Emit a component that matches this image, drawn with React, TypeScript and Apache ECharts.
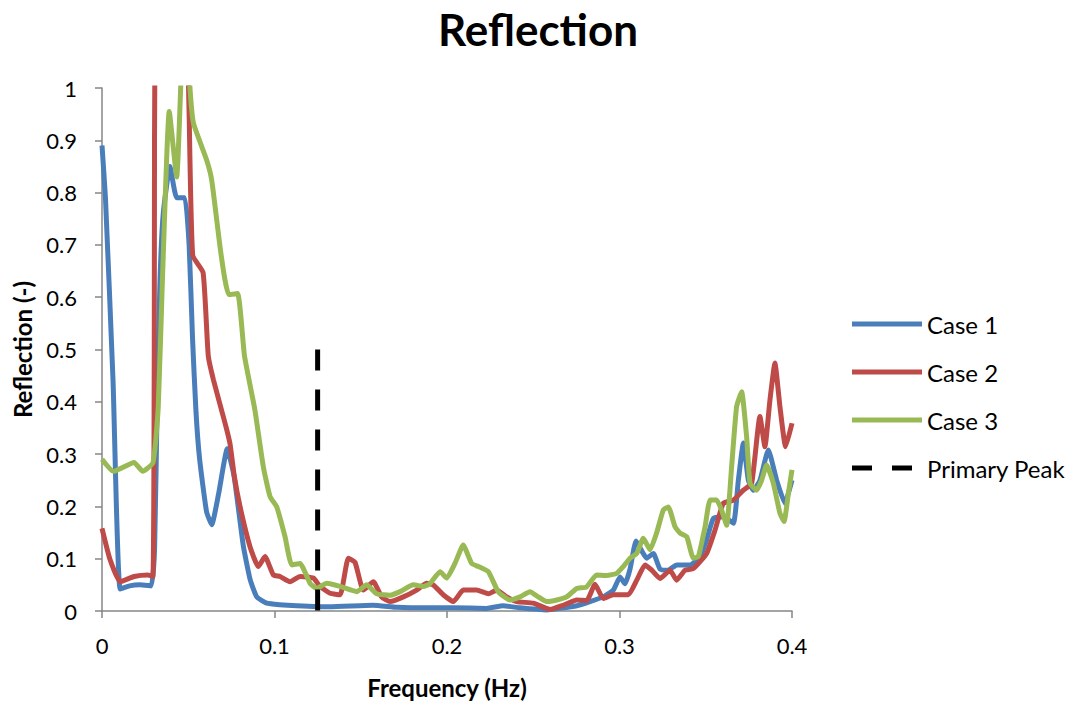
import React, { useEffect, useRef } from "react";
import * as echarts from "echarts";

// Reflection coefficient vs. frequency for three cases
const case1Freq = [0, 0.002, 0.0064, 0.0105, 0.016, 0.022, 0.0285, 0.0305, 0.032, 0.0336, 0.0355, 0.0394, 0.0433, 0.048, 0.0505, 0.0525, 0.0545, 0.0566, 0.0606, 0.0636, 0.0676, 0.0726, 0.0766, 0.0819, 0.0859, 0.0897, 0.0955, 0.103, 0.113, 0.132, 0.157, 0.171, 0.19, 0.2037, 0.223, 0.2326, 0.2423, 0.2578, 0.2655, 0.2752, 0.2829, 0.2906, 0.2964, 0.3003, 0.3032, 0.3061, 0.3096, 0.3129, 0.3158, 0.3196, 0.3235, 0.3283, 0.3331, 0.3409, 0.3467, 0.3505, 0.3544, 0.3602, 0.366, 0.3689, 0.3718, 0.3747, 0.3776, 0.3814, 0.3863, 0.3911, 0.3959, 0.4];
const case1Values = [0.89, 0.79, 0.44, 0.042, 0.048, 0.05, 0.048, 0.12, 0.4, 0.63, 0.76, 0.85, 0.79, 0.79, 0.7, 0.52, 0.38, 0.29, 0.19, 0.165, 0.224, 0.31, 0.257, 0.125, 0.06, 0.027, 0.015, 0.012, 0.01, 0.008, 0.011, 0.007, 0.006, 0.006, 0.005, 0.01, 0.006, 0.002, 0.005, 0.01, 0.018, 0.027, 0.04, 0.065, 0.052, 0.08, 0.134, 0.115, 0.101, 0.11, 0.08, 0.078, 0.088, 0.088, 0.104, 0.136, 0.177, 0.18, 0.168, 0.25, 0.321, 0.25, 0.231, 0.25, 0.308, 0.25, 0.206, 0.25];

const case2Freq = [0, 0.0046, 0.0106, 0.0186, 0.0266, 0.0295, 0.0303, 0.031, 0.04, 0.048, 0.0505, 0.0526, 0.0586, 0.0616, 0.0646, 0.0716, 0.0742, 0.0766, 0.08, 0.0858, 0.0906, 0.0945, 0.0993, 0.1032, 0.109, 0.1148, 0.1225, 0.1264, 0.1322, 0.138, 0.1428, 0.1467, 0.1515, 0.1573, 0.1621, 0.167, 0.1747, 0.1824, 0.1882, 0.192, 0.1978, 0.2037, 0.2094, 0.2172, 0.224, 0.2288, 0.2346, 0.2404, 0.25, 0.2597, 0.2674, 0.2752, 0.281, 0.2858, 0.2906, 0.2964, 0.3051, 0.31, 0.3148, 0.3187, 0.3235, 0.3293, 0.3331, 0.338, 0.3428, 0.3505, 0.3554, 0.3602, 0.366, 0.3718, 0.3766, 0.3814, 0.3843, 0.3872, 0.3901, 0.393, 0.3963, 0.4];
const case2Values = [0.158, 0.099, 0.056, 0.066, 0.069, 0.066, 0.5, 1.3, 1.6, 1.3, 0.95, 0.68, 0.647, 0.488, 0.442, 0.356, 0.32, 0.26, 0.2, 0.123, 0.085, 0.104, 0.069, 0.066, 0.056, 0.066, 0.063, 0.047, 0.034, 0.031, 0.101, 0.093, 0.04, 0.056, 0.027, 0.018, 0.027, 0.04, 0.053, 0.05, 0.031, 0.018, 0.04, 0.04, 0.033, 0.04, 0.027, 0.018, 0.015, 0.003, 0.011, 0.021, 0.02, 0.051, 0.024, 0.031, 0.031, 0.059, 0.088, 0.078, 0.062, 0.078, 0.059, 0.078, 0.081, 0.11, 0.155, 0.206, 0.212, 0.231, 0.244, 0.372, 0.314, 0.403, 0.474, 0.391, 0.314, 0.359];

const case3Freq = [0, 0.0066, 0.0186, 0.0236, 0.0296, 0.0326, 0.035, 0.039, 0.0433, 0.0462, 0.0485, 0.051, 0.053, 0.0607, 0.0636, 0.0684, 0.0713, 0.0735, 0.0786, 0.0826, 0.0886, 0.0935, 0.0974, 0.1013, 0.1061, 0.11, 0.1148, 0.1206, 0.1245, 0.1303, 0.138, 0.1477, 0.1534, 0.1592, 0.167, 0.1728, 0.1805, 0.1863, 0.19, 0.196, 0.1998, 0.2046, 0.2094, 0.2143, 0.2182, 0.224, 0.2297, 0.2365, 0.2423, 0.2481, 0.2529, 0.2578, 0.2636, 0.2694, 0.2752, 0.2809, 0.2867, 0.2926, 0.2984, 0.3022, 0.3061, 0.31, 0.3138, 0.3177, 0.3215, 0.3254, 0.3283, 0.3322, 0.3351, 0.339, 0.3428, 0.3457, 0.3496, 0.3525, 0.3563, 0.3592, 0.3621, 0.365, 0.3679, 0.3708, 0.3737, 0.3757, 0.3795, 0.3824, 0.3853, 0.3892, 0.393, 0.3954, 0.3979, 0.4];
const case3Values = [0.29, 0.267, 0.284, 0.267, 0.284, 0.39, 0.63, 0.955, 0.83, 1.05, 1.15, 1.0, 0.933, 0.862, 0.824, 0.697, 0.633, 0.605, 0.607, 0.488, 0.385, 0.276, 0.219, 0.199, 0.142, 0.088, 0.091, 0.053, 0.043, 0.053, 0.047, 0.037, 0.05, 0.033, 0.03, 0.037, 0.05, 0.047, 0.052, 0.075, 0.063, 0.091, 0.126, 0.091, 0.085, 0.075, 0.037, 0.021, 0.027, 0.037, 0.027, 0.018, 0.021, 0.027, 0.043, 0.046, 0.069, 0.068, 0.072, 0.085, 0.101, 0.11, 0.139, 0.117, 0.149, 0.193, 0.199, 0.161, 0.149, 0.142, 0.101, 0.104, 0.161, 0.212, 0.212, 0.193, 0.164, 0.276, 0.391, 0.419, 0.333, 0.244, 0.231, 0.25, 0.279, 0.244, 0.187, 0.171, 0.225, 0.27];

// Primary peak marker
const peakFreq = [0.125, 0.125];
const peakValues = [0.5, 0];

const seriesNames = ["Case 1", "Case 2", "Case 3", "Primary Peak"];
const seriesColors = ["#4A7EBB", "#BE4B48", "#98B954", "#000000"];

const xTicks = ["0", "0.1", "0.2", "0.3", "0.4"];

const FONT = "Lato, 'Open Sans', sans-serif";

// Legend glyphs: a solid bar, and two dashes for the marker line
const SOLID_ICON = "path://M0,0H70V5H0Z";
const DASH_ICON = "path://M0,0H20V5H0ZM40,0H60V5H40ZM70,0L70,5";

const pairs = (xs: number[], ys: number[]) => xs.map((x, i) => [x, ys[i]]);

export default function App() {
  const ref = useRef<HTMLDivElement>(null);

  useEffect(() => {
    if (!ref.current) return;
    const chart = echarts.init(ref.current, undefined, { renderer: "svg" });

    const lineSeries = (i: number, data: number[][]) => ({
      name: seriesNames[i],
      type: "line",
      data,
      showSymbol: false,
      symbol: "none",
      smooth: 0.15,
      clip: true,
      lineStyle: { color: seriesColors[i], width: 5 },
      itemStyle: { color: seriesColors[i] },
    });

    chart.setOption({
      animation: false,
      backgroundColor: "#ffffff",
      textStyle: { fontFamily: FONT },
      title: {
        text: "Reflection",
        left: 533,
        top: 2,
        textAlign: "center",
        textStyle: { fontFamily: FONT, fontSize: 44, fontWeight: "bold", color: "#000" },
      },
      legend: {
        orient: "vertical",
        left: 852,
        top: 312,
        padding: 0,
        itemWidth: 70,
        itemHeight: 5,
        itemGap: 24,
        data: seriesNames.map((name, i) => ({
          name,
          icon: i === 3 ? DASH_ICON : SOLID_ICON,
          itemStyle: { color: seriesColors[i] },
        })),
        textStyle: { fontFamily: FONT, fontSize: 24, color: "#000" },
      },
      grid: { left: 102, right: 283, top: 88, bottom: 93 },
      xAxis: {
        type: "value",
        min: 0,
        max: 0.4,
        interval: 0.1,
        name: "Frequency (Hz)",
        nameLocation: "middle",
        nameGap: 64,
        nameTextStyle: { fontFamily: FONT, fontSize: 24, fontWeight: "bold", color: "#000" },
        axisLine: { lineStyle: { color: "#868686", width: 1.5 } },
        axisTick: { show: true, inside: false, length: 7, lineStyle: { color: "#868686", width: 1.5 } },
        axisLabel: {
          fontFamily: FONT,
          fontSize: 22,
          color: "#000",
          margin: 23,
          formatter: (v: number) => xTicks[Math.round(v * 10)] ?? String(v),
        },
        splitLine: { show: false },
      },
      yAxis: {
        type: "value",
        min: 0,
        max: 1,
        interval: 0.1,
        name: "Reflection (-)",
        nameLocation: "middle",
        nameGap: 68,
        nameTextStyle: { fontFamily: FONT, fontSize: 24, fontWeight: "bold", color: "#000" },
        axisLine: { show: true, lineStyle: { color: "#868686", width: 1.5 } },
        axisTick: { show: true, inside: false, length: 7, lineStyle: { color: "#868686", width: 1.5 } },
        axisLabel: {
          fontFamily: FONT,
          fontSize: 22,
          color: "#000",
          margin: 25,
          formatter: (v: number) => String(Math.round(v * 10) / 10),
        },
        splitLine: { show: false },
      },
      series: [
        lineSeries(0, pairs(case1Freq, case1Values)),
        lineSeries(1, pairs(case2Freq, case2Values)),
        lineSeries(2, pairs(case3Freq, case3Values)),
        {
          name: seriesNames[3],
          type: "line",
          data: pairs(peakFreq, peakValues),
          showSymbol: false,
          symbol: "none",
          lineStyle: { color: "#000", width: 5, type: [21, 19] },
          itemStyle: { color: "#000" },
        },
      ],
    });

    return () => chart.dispose();
  }, []);

  return (
    <div
      ref={ref}
      style={{ position: "fixed", left: 0, top: 0, width: 1075, height: 704, background: "#fff" }}
    />
  );
}
